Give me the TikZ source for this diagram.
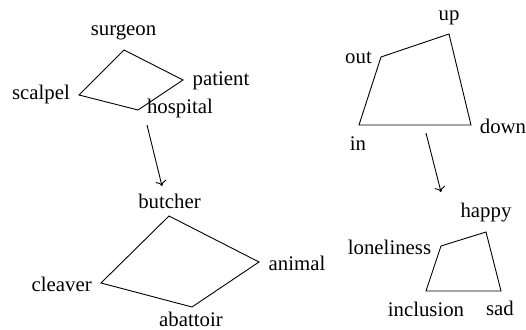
\documentclass[tikz,border=0pt]{standalone}
\usepackage{fontspec}
\setmainfont{Liberation Serif}
\usepackage{tikz}
\usetikzlibrary{arrows.meta, calc}
\newcommand{\wordsize}{\fontsize{10.4}{12}\selectfont}
\tikzset{
  word/.style={inner sep=0pt, font=\wordsize},
  frame/.style={draw, line width=0.45pt},
  shift arrow/.style={draw, ->, line width=0.45pt},
}

\begin{document}
\begin{tikzpicture}[x=0.5pt, y=-0.5pt]
  \useasboundingbox (0,0) rectangle (526,330);

  % surgeon / hospital
  \coordinate (surgeonV) at (124,50);
  \coordinate (patientV) at (183,80);
  \coordinate (hospitalV) at (138,110);
  \coordinate (scalpelV) at (79,95);
  \node[word] (surgeon) at (123.5,32) {surgeon};
  \node[word] (patient) at (221,80.5) {patient};
  \node[word] (hospital) at (180,109) {hospital};
  \node[word] (scalpel) at (41,94.5) {scalpel};
  \draw[frame] (surgeonV) -- (patientV) -- (hospitalV) -- (scalpelV) -- cycle;

  % butcher / abattoir
  \coordinate (butcherV) at (169,216);
  \coordinate (animalV) at (259,262);
  \coordinate (abattoirV) at (192,307);
  \coordinate (cleaverV) at (101,283);
  \node[word] (butcher) at (169.5,201.5) {butcher};
  \node[word] (animal) at (297,263) {animal};
  \node[word] (abattoir) at (191,319.5) {abattoir};
  \node[word] (cleaver) at (61.7,284.5) {cleaver};
  \draw[frame] (butcherV) -- (animalV) -- (abattoirV) -- (cleaverV) -- cycle;

  % up / down
  \coordinate (upV) at (449,34);
  \coordinate (outV) at (381,57);
  \coordinate (inV) at (359,125);
  \coordinate (downV) at (471,125);
  \node[word] (up) at (449,17.5) {up};
  \node[word] (out) at (358.5,58) {out};
  \node[word] (in) at (358,143.5) {in};
  \node[word] (down) at (503,126) {down};
  \draw[frame] (upV) -- (downV) -- (inV) -- (outV) -- cycle;

  % happy / sad
  \coordinate (happyV) at (486,232);
  \coordinate (lonelinessV) at (441,246);
  \coordinate (inclusionV) at (426,291);
  \coordinate (sadV) at (501,291);
  \node[word] (happy) at (486,213) {happy};
  \node[word] (loneliness) at (389.5,247.5) {loneliness};
  \node[word] (inclusion) at (426,309) {inclusion};
  \node[word] (sad) at (500,308) {sad};
  \draw[frame] (happyV) -- (sadV) -- (inclusionV) -- (lonelinessV) -- cycle;

  % mappings
  \coordinate (leftTop) at (147,125);
  \coordinate (leftBot) at (162,186);
  \coordinate (rightTop) at (426,133);
  \coordinate (rightBot) at (441,192);
  \path[shift arrow] (leftTop) -- (leftBot);
  \path[shift arrow] (rightTop) -- (rightBot);
\end{tikzpicture}
\end{document}
